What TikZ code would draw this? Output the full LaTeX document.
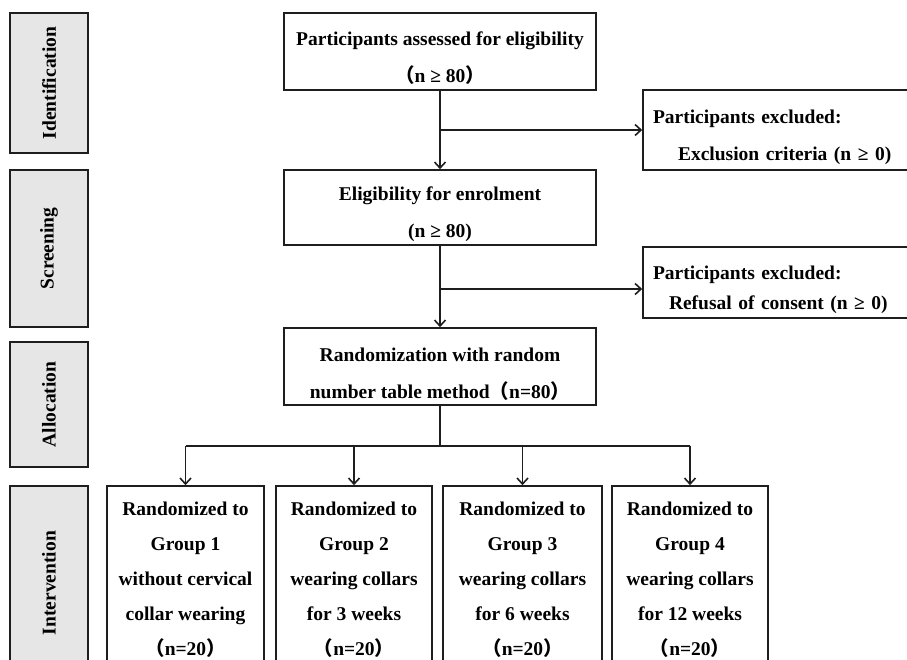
\documentclass[tikz,border=0pt]{standalone}
\usepackage{fontspec}
\setmainfont{Liberation Serif}
\newfontfamily\cjkfont{Noto Sans CJK SC}
\usetikzlibrary{arrows.meta, positioning}
\definecolor{phasegray}{HTML}{E6E6E6}
\definecolor{lineblack}{HTML}{1E1E1E}
\newcommand{\fwl}{{\cjkfont （}}
\newcommand{\fwr}{{\cjkfont ）}}
\newcommand{\topgap}{\rule{0pt}{28pt}}

\begin{document}
\begin{tikzpicture}[
  x=1pt, y=-1pt,
  box/.style={draw=lineblack, line width=1.6pt, inner sep=0pt, align=center,
    font=\bfseries\fontsize{19.5}{37}\selectfont},
  phase/.style={box, fill=phasegray, rotate=90, minimum height=78pt},
  flow/.style={box, minimum width=312pt},
  excl/.style={box, minimum width=290pt, text width=270pt,
    inner xsep=10pt, align=left},
  group/.style={box, minimum width=157pt, minimum height=188pt,
    font=\bfseries\fontsize{19.5}{35}\selectfont},
  arr/.style={-{Straight Barb[length=6pt, width=11pt]}, line width=1.6pt,
    draw=lineblack},
  >=Stealth
]
  \useasboundingbox (0,0) rectangle (907,659);
  \clip (0,0) rectangle (907,659);

  % Phases
  \node[phase, minimum width=140pt] (ident) at (49, 83) {Identification};
  \node[phase, minimum width=157pt] (screen) at (49, 248.5) {Screening};
  \node[phase, minimum width=125pt] (alloc) at (49, 404.5) {Allocation};
  \node[phase, minimum width=194pt] (interv) at (49, 583) {Intervention};

  % Main flow
  \node[flow, minimum height=77pt] (assess) at (440, 51.5)
    {\topgap Participants assessed for eligibility\\\fwl n ≥ 80\fwr};
  \node[flow, minimum height=75pt] (elig) at (440, 207.5)
    {\topgap Eligibility for enrolment\\(n ≥ 80)};
  \node[flow, minimum height=77pt] (rand) at (440, 366.5)
    {\topgap Randomization with random\\number table method\fwl n=80\fwr};

  % Exclusions
  \node[excl, minimum height=80pt] (excl1) at (788, 130)
    {\topgap Participants excluded:\\
     \hspace*{25pt}Exclusion criteria (n ≥ 0)};
  \node[excl, minimum height=71pt,
    font=\bfseries\fontsize{19.5}{30}\selectfont] (excl2) at (788, 282.5)
    {\topgap Participants excluded:\\
     \hspace*{16pt}Refusal of consent (n ≥ 0)};

  % Groups
  \node[group] (g1) at (185.5, 580)
    {Randomized to\\Group 1\\without cervical\\collar wearing\\\fwl n=20\fwr};
  \node[group, minimum width=156pt] (g2) at (354, 580)
    {Randomized to\\Group 2\\wearing collars\\for 3 weeks\\\fwl n=20\fwr};
  \node[group, minimum width=159pt] (g3) at (522.5, 580)
    {Randomized to\\Group 3\\wearing collars\\for 6 weeks\\\fwl n=20\fwr};
  \node[group, minimum width=156pt] (g4) at (690, 580)
    {Randomized to\\Group 4\\wearing collars\\for 12 weeks\\\fwl n=20\fwr};

  % Connections
  \coordinate (split1) at (440, 130);
  \coordinate (split2) at (440, 289);
  \coordinate (split3) at (440, 446);
  \draw[arr] (assess) -- (elig);
  \draw[arr] (split1) -- (excl1.west);
  \draw[arr] (elig) -- (rand);
  \draw[arr] (split2) -- (split2 -| excl2.west);
  \draw[line width=2pt, draw=lineblack] (rand) -- (split3);
  \draw[line width=1.6pt, draw=lineblack] (split3 -| g1) -- (split3 -| g4);
  \foreach \i in {1,2,3,4} {
    \draw[arr] (split3 -| g\i) -- (g\i.north);
  }
\end{tikzpicture}
\end{document}
